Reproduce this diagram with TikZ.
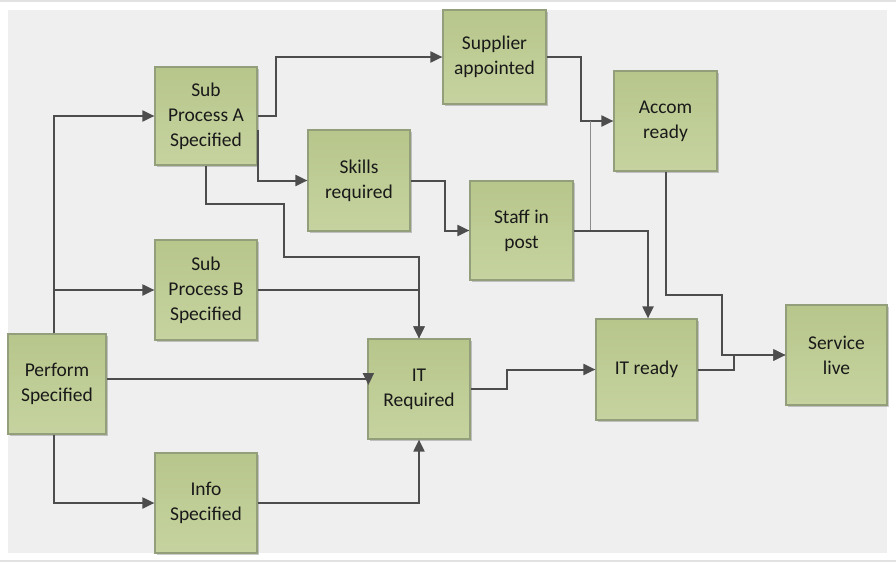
\documentclass[tikz,border=0pt]{standalone}
\usepackage{fontspec}
\setmainfont{Carlito}
\usetikzlibrary{arrows.meta,calc,shadows}
\definecolor{panel}{HTML}{EFEFEF}
\definecolor{boxtop}{HTML}{B7C68B}
\definecolor{boxbot}{HTML}{C6D3A0}
\definecolor{boxline}{HTML}{939E7A}
\definecolor{conncol}{HTML}{4D4D4D}
\definecolor{thincol}{HTML}{8C8C8C}
\definecolor{edgecol}{HTML}{E2E2E2}
\tikzset{
  box/.style={draw=boxline, line width=1.2pt, top color=boxtop, bottom color=boxbot,
    align=center, inner sep=0pt, text=black!90,
    font=\fontsize{19.5}{25}\selectfont,
    drop shadow={shadow xshift=1.5pt, shadow yshift=-1.5pt, opacity=0.2, fill=black}},
  conn/.style={draw=conncol, line width=2pt, -{Triangle[length=12pt,width=11pt]}},
  plain/.style={draw=conncol, line width=2pt},
  thin/.style={draw=thincol, line width=1.2pt}
}
\begin{document}
\begin{tikzpicture}[x=1pt,y=-1pt]
\useasboundingbox (0,0) rectangle (896,562);
\fill[white] (0,0) rectangle (896,562);
\draw[edgecol, line width=1.5pt] (0,0.8) -- (896,0.8);
\draw[edgecol, line width=1.5pt] (0,561.2) -- (896,561.2);
\fill[panel] (8,10) rectangle (887,553);

\node[box, minimum width=102, minimum height=98] (subA) at (206,116) {Sub\\Process A\\Specified};
\node[box, minimum width=102, minimum height=101] (skills) at (359,180.5) {Skills\\required};
\node[box, minimum width=102, minimum height=100] (subB) at (206,290) {Sub\\Process B\\Specified};
\node[box, minimum width=98, minimum height=100] (perform) at (57,384) {Perform\\Specified};
\node[box, minimum width=102, minimum height=100] (info) at (206,503) {Info\\Specified};
\node[box, minimum width=102, minimum height=100] (itreq) at (419,389) {IT\\Required};
\node[box, minimum width=103, minimum height=94] (supplier) at (494.5,57) {Supplier\\appointed};
\node[box, minimum width=103, minimum height=100] (accom) at (665.5,121) {Accom\\ready};
\node[box, minimum width=103, minimum height=99] (staff) at (521.5,230.5) {Staff in\\post};
\node[box, minimum width=101, minimum height=101] (itready) at (646.5,369.5) {IT ready};
\node[box, minimum width=101, minimum height=100] (service) at (836.5,355) {Service\\live};

% Perform Specified outputs
\draw[conn] ($(perform.north)+(-3,0)$) |- (subA.west);
\draw[conn] ($(perform.north)+(-3,0)$) |- (subB.west);
\draw[conn] ($(perform.south)+(-3,0)$) |- (info.west);
\draw[conn] ($(perform.east)+(0,-5)$) -- ($(itreq.west)+(1,-10)$) -- ($(itreq.west)+(1,-4)$);

% Sub Process A outputs
\draw[conn] (subA.east) -- ++(18,0) |- (supplier.west);
\draw[conn] ($(subA.east)+(0,14)$) |- (skills.west);
\draw[conn] (subA.south) -- ++(0,38) -| ++(78,53) -| (itreq.north);

% into IT Required
\draw[conn] (subB.east) -| (itreq.north);
\draw[conn] (info.east) -| (itreq.south);

% upper chain
\draw[conn] (skills.east) -- ++(34,0) |- (staff.west);
\draw[conn] (supplier.east) -- ++(34,0) |- (accom.west);
\draw[thin] (staff.east) -| ($(accom.west)+(-23,0)$);
\draw[conn] (staff.east) -| ($(itready.north)+(1.5,0)$);

% to Service live
\draw[conn] (itreq.east) -- ++(36,0) |- (itready.west);
\draw[conn] (accom.south) |- ++(56,123) |- (service.west);
\draw[conn] (itready.east) -- ++(36,0) |- (service.west);
\end{tikzpicture}
\end{document}
